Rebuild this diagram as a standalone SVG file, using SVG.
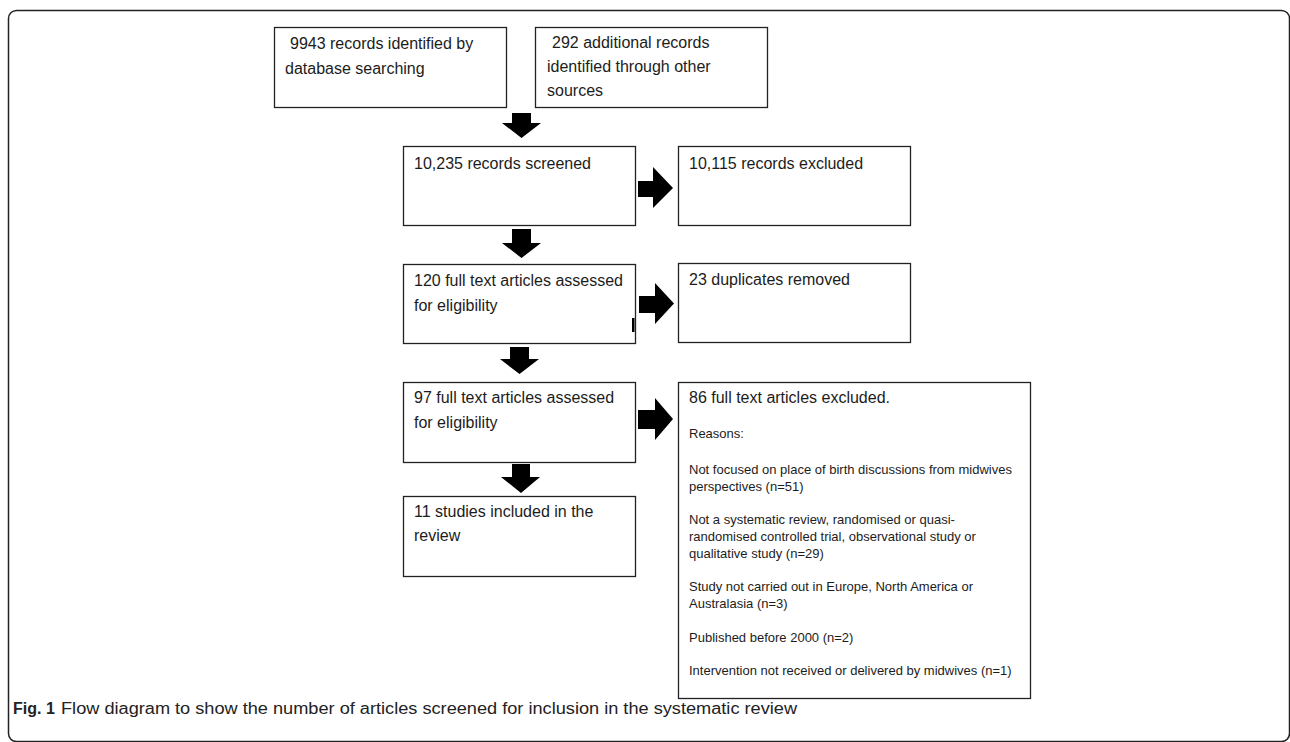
<svg xmlns="http://www.w3.org/2000/svg" width="1290" height="742" viewBox="0 0 1290 742">
<style>
.box{fill:#fff;stroke:#222;stroke-width:1.3}
.t{font-family:"Liberation Sans",Arial,sans-serif;font-size:16px;fill:#1c1c1c}
.s{font-family:"Liberation Sans",Arial,sans-serif;font-size:13px;fill:#1c1c1c}
.arr{fill:#000}
.cap{font-family:"Liberation Sans",Arial,sans-serif;font-size:16px;fill:#222}
</style>
<rect x="0" y="0" width="1290" height="742" fill="#fff"/>
<rect x="8.5" y="10.5" width="1281" height="731" rx="8" fill="none" stroke="#222" stroke-width="1.5"/>
<g id="n1">
<rect class="box" x="274.5" y="27.5" width="232" height="80"/>
<text class="t" x="290" y="49">9943 records identified by</text>
<text class="t" x="285" y="74">database searching</text>
</g>
<g id="n2">
<rect class="box" x="535.5" y="27.5" width="232" height="80"/>
<text class="t" x="552" y="48">292 additional records</text>
<text class="t" x="547" y="72">identified through other</text>
<text class="t" x="547" y="96">sources</text>
</g>
<g id="n3">
<rect class="box" x="403.5" y="146.5" width="232" height="79"/>
<text class="t" x="414" y="169">10,235 records screened</text>
</g>
<g id="n4">
<rect class="box" x="678.5" y="146.5" width="232" height="79"/>
<text class="t" x="689" y="169">10,115 records excluded</text>
</g>
<g id="n5">
<rect class="box" x="403.5" y="264.5" width="232" height="79"/>
<text class="t" x="414" y="286">120 full text articles assessed</text>
<text class="t" x="414" y="311">for eligibility</text>
<rect x="632" y="318" width="2.5" height="14" fill="#000"/>
</g>
<g id="n6">
<rect class="box" x="678.5" y="263.5" width="232" height="79"/>
<text class="t" x="689" y="285">23 duplicates removed</text>
</g>
<g id="n7">
<rect class="box" x="403.5" y="382.5" width="232" height="80"/>
<text class="t" x="414" y="403">97 full text articles assessed</text>
<text class="t" x="414" y="428">for eligibility</text>
</g>
<g id="n8">
<rect class="box" x="403.5" y="496.5" width="232" height="80"/>
<text class="t" x="414" y="517">11 studies included in the</text>
<text class="t" x="414" y="541">review</text>
</g>
<g id="n9">
<rect class="box" x="678.5" y="382.5" width="352" height="316"/>
<text class="t" x="689" y="403">86 full text articles excluded.</text>
<text class="s" x="689" y="438">Reasons:</text>
<text class="s" x="689" y="474">Not focused on place of birth discussions from midwives</text>
<text class="s" x="689" y="491">perspectives (n=51)</text>
<text class="s" x="689" y="524">Not a systematic review, randomised or quasi-</text>
<text class="s" x="689" y="541">randomised controlled trial, observational study or</text>
<text class="s" x="689" y="558">qualitative study (n=29)</text>
<text class="s" x="689" y="591">Study not carried out in Europe, North America or</text>
<text class="s" x="689" y="608">Australasia (n=3)</text>
<text class="s" x="689" y="642">Published before 2000 (n=2)</text>
<text class="s" x="689" y="675">Intervention not received or delivered by midwives (n=1)</text>
</g>
<g id="connectors">
<path class="arr" d="M512 113 H531 V123 H541 L521.5 138 L502 123 H512 Z"/>
<path class="arr" d="M512 229 H531 V243 H541 L521.5 258 L502 243 H512 Z"/>
<path class="arr" d="M510 347 H529 V359 H539 L519.5 374 L500 359 H510 Z"/>
<path class="arr" d="M512 464 H530 V477 H540 L521 493 L501 477 H512 Z"/>
<path class="arr" d="M638 181 H653 V167 L673 188 L653 208 V197 H638 Z"/>
<path class="arr" d="M639 296 H655 V283 L674 303.5 L655 324 V313 H639 Z"/>
<path class="arr" d="M638 410 H655 V398 L673 419 L655 440 V429 H638 Z"/>
</g>
<text class="cap" x="13" y="714"><tspan font-weight="bold">Fig. 1</tspan></text>
<text class="cap" x="61" y="714" textLength="736" lengthAdjust="spacingAndGlyphs">Flow diagram to show the number of articles screened for inclusion in the systematic review</text>
</svg>
